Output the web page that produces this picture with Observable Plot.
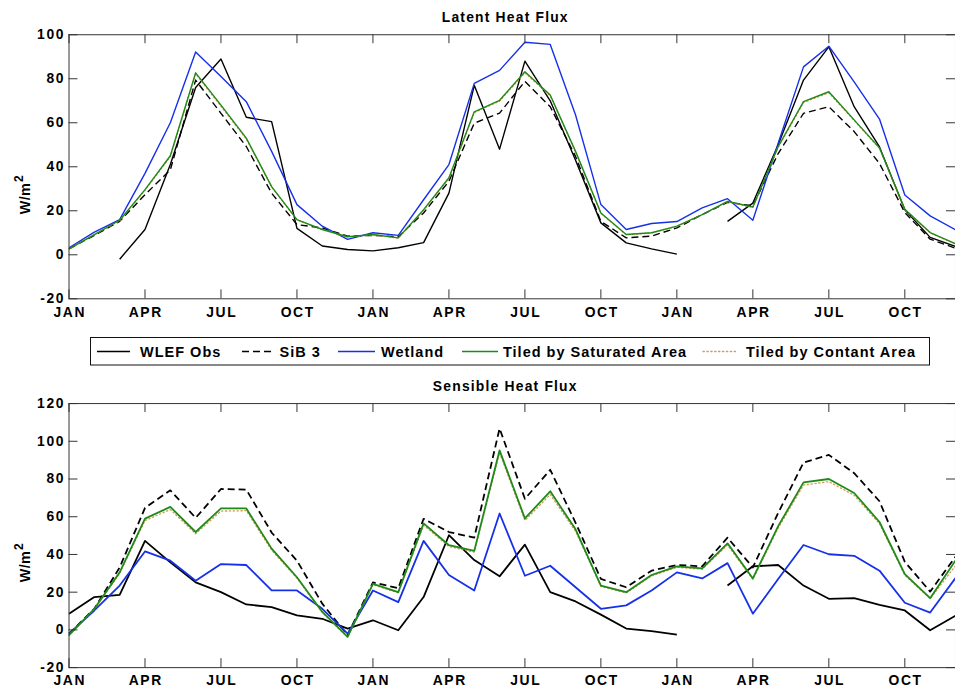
<!DOCTYPE html>
<html><head><meta charset="utf-8">
<script src="https://cdn.jsdelivr.net/npm/d3@7"></script>
<script src="https://cdn.jsdelivr.net/npm/@observablehq/plot@0.6"></script>
<style>
html,body{margin:0;padding:0;overflow:hidden;background:#fff;width:955px;height:692px}
#wrap{position:relative;width:955px;height:692px;overflow:hidden;background:#fff}
#wrap > svg{position:absolute;left:0;overflow:visible}
</style></head><body><div id="wrap"></div>
<script>
// ---------- data ----------
const months = d3.range(36); // month index 0 = JAN of year 1
const xTicks = [0,3,6,9,12,15,18,21,24,27,30,33];
const xLabels = ["JAN","APR","JUL","OCT","JAN","APR","JUL","OCT","JAN","APR","JUL","OCT"];
const latYTicks = [-20,0,20,40,60,80,100];
const senYTicks = [-20,0,20,40,60,80,100,120];
const seriesNames = ["WLEF Obs","SiB 3","Wetland","Tiled by Saturated Area","Tiled by Contant Area"];

// Latent heat flux (W/m2)
const latObs = [null,null,-2,11.5,41,76,89,62.5,60.5,12,4,2.4,1.8,3.2,5.5,28,77,48,88,70,43,14.5,5.4,2.7,0.3,null,15.2,23.5,50,79.4,94.5,67.3,49,20.5,7.9,3.8];
const latSiB = [2.7,8.8,15.2,27.3,38.6,79.4,64.3,49.2,28,13.7,12.2,8.5,8.8,8.2,19,33.4,59.8,64.4,78.8,67.3,44.7,15.2,7.7,8.5,12.2,18.3,23.8,22.3,46,64.3,67.3,56,41.5,19.2,7.1,3];
const latWet = [3.2,10.3,16,37,60,92.2,81,69.6,47,22.8,13,7,10,8.8,25,41,77.9,83.8,96.6,95.6,63.5,22.8,11.5,14.2,15.1,21.3,25.5,15.7,50.7,85.4,94.8,78.6,61.7,27.2,17.7,11.4];
const latSat = [2.7,9.2,15.7,29.6,45,82.7,68,53,31,16,11.5,8.2,9.2,7.7,20.5,35,65,70.2,83.2,72.6,47,19,9.2,10,13,18.3,24.3,21.7,49.2,69.6,74.1,61.3,48.6,20.7,10.1,5];
const latCon = [2.7,9.1,15.5,29.3,44.6,82.2,67.5,52.6,30.8,15.8,11.4,8.1,9.1,7.6,20.2,34.7,64.6,69.8,82.7,72.2,46.7,18.8,9.1,9.9,12.9,18.2,24.1,21.5,48.8,69.2,73.6,61,48.3,20.5,10,4.9];

// Sensible heat flux (W/m2)
const senObs = [8.6,17.4,18.6,47.2,35.8,25.2,20,13.5,12.1,7.7,5.9,0.7,5.1,-0.2,17.4,50.2,37,28.4,45.2,20,15.1,8.1,0.7,-0.7,-2.5,null,23.5,33.7,34.4,23.5,16.5,16.8,13.3,10.3,-0.2,7.5];
const senSiB = [-2,11.2,33.1,64.7,74,59.4,74.7,74.4,51.6,36.7,13.9,-2.8,25.2,22.1,58.9,51.9,48.9,106.8,69.5,84.9,56.8,27,22.6,31.4,34.4,33.7,48.9,33.1,62,88.7,92.8,83.1,68.2,36.1,20.3,38.8];
const senWet = [-2,10.3,23.5,41.6,36.7,26.1,34.9,34.4,20.9,20.9,11.2,-2,20.9,14.7,47.2,29.1,20.9,61.7,28.7,34,22.6,11.2,13,20.9,30.5,27.3,35.4,8.6,27,45,40.1,39.3,31.4,14.4,9.2,27.5];
const senSat = [-2.8,11.2,30.5,59,65.2,51.9,64.4,64.4,43.1,27.9,9.5,-3.7,24.4,20,56.5,44.9,41.9,95.2,59.1,73.5,53.3,23.5,20,29.1,33.7,32.6,45.9,27.3,55,78.2,80,72.6,57.2,29.6,16.8,36.8];
const senCon = [-3,11,30,58,63.8,51,63,63.2,42.3,27.4,9.2,-3.9,24,19.6,55.5,44.2,41.2,94,58,71.8,52.3,23,19.6,28.6,33.2,32.2,45,26.8,54,76.8,78.6,71.4,56.3,29,16.6,34];

// ---------- styling ----------
const FONT = '"Liberation Sans", Arial, Helvetica, sans-serif';
const styles = [
  {stroke:"#000", dash:null},
  {stroke:"#000", dash:"7,4"},
  {stroke:"#1530e8", dash:null},
  {stroke:"#1f8a1a", dash:null},
  {stroke:"#d29a52", dash:"1.3,2.6"}
];

const wrap = document.getElementById("wrap");

function panel({title, values, yDomain, yTicks, top, height, mt, mb, titleBase, ylabStart, lw}) {
  const W = 962, ML = 69;
  const innerH = height - mt - mb, innerW = W - ML;
  const rows = arr => arr.map((v,i) => ({m: months[i], v}));
  const order = [0,1,2,4,3];
  const lineMarks = order.map(k => Plot.line(rows(values[k]), {
    x:"m", y:"v", stroke: styles[k].stroke, strokeWidth: k===4 ? 1.3 : lw,
    strokeDasharray: styles[k].dash, strokeLinejoin:"round", strokeLinecap: k===4 ? "round" : "butt"
  }));
  const svg = Plot.plot({
    width: W, height,
    marginLeft: ML, marginRight: 0, marginTop: mt, marginBottom: mb,
    style: {fontFamily: FONT, fontWeight: "bold", fontSize: "14px", background: "transparent", overflow:"visible"},
    x: {domain:[0,35], axis:null, label:null},
    y: {domain:yDomain, axis:null, label:null},
    marks: [
      ...lineMarks,
      Plot.frame({stroke:"#333", strokeWidth:1}),
      Plot.tickX(xTicks, {x:d=>d, insetBottom: innerH-9, stroke:"#333"}),
      Plot.tickX(xTicks, {x:d=>d, insetTop: innerH-9, stroke:"#333"}),
      Plot.tickY(yTicks, {y:d=>d, insetRight: innerW-9, stroke:"#333"}),
      Plot.tickY(yTicks, {y:d=>d, insetLeft: innerW-9, stroke:"#333"}),
      Plot.axisX(xTicks, {tickSize:0, tickPadding:8, label:null, tickFormat: d => xLabels[xTicks.indexOf(d)],
        fontSize:14, fontWeight:"bold", fill:"#000", dx:0.8}),
      Plot.axisY(yTicks, {tickSize:0, tickPadding:4, label:null, tickFormat: d => String(d),
        fontSize:14, fontWeight:"bold", fill:"#000"})
    ]
  });
  svg.style.top = top + "px";
  svg.style.letterSpacing = "1.6px";
  const s = d3.select(svg);
  s.append("text").attr("x", 509).attr("y", titleBase).attr("text-anchor","middle")
    .attr("font-family", FONT).attr("font-weight","bold").attr("font-size",14)
    .style("letter-spacing","1.2px").attr("fill","#000").text(title);
  const yl = s.append("text").attr("transform", `translate(30,${ylabStart}) rotate(-90)`)
    .attr("font-family", FONT).attr("font-weight","bold").attr("font-size",14.5)
    .style("letter-spacing","0.3px").attr("fill","#000");
  yl.append("tspan").text("W/m");
  yl.append("tspan").attr("dy","-0.55em").attr("dx","1").attr("font-size",12).text("2");
  wrap.appendChild(svg);
}

panel({title:"Latent Heat Flux", values:[latObs,latSiB,latWet,latSat,latCon],
  yDomain:[-20,100], yTicks:latYTicks, top:0, height:320, mt:34.5, mb:19.5,
  titleBase:21.7, ylabStart:196, lw:1.4});

// legend
(function legend(){
  const lg = d3.create("svg").attr("width",955).attr("height",52).style("top","320px");
  lg.append("rect").attr("x",90.5).attr("y",17.5).attr("width",839).attr("height",27.5)
    .attr("fill","#fff").attr("stroke","#111").attr("stroke-width",1);
  const items = [
    {l:[97,130], t:140}, {l:[242,275], t:279.5}, {l:[338,375], t:381},
    {l:[462,498], t:503}, {l:[703,738], t:746}
  ];
  items.forEach((it,k) => {
    lg.append("line").attr("x1",it.l[0]).attr("x2",it.l[1]).attr("y1",31.5).attr("y2",31.5)
      .attr("stroke",styles[k].stroke).attr("stroke-width", k===4?1.3:1.6)
      .attr("stroke-dasharray", styles[k].dash).attr("stroke-linecap", k===4?"round":"butt");
    lg.append("text").attr("x",it.t).attr("y",36.8).attr("font-family",FONT)
      .attr("font-weight","bold").attr("font-size",14.5).style("letter-spacing","1px")
      .attr("fill","#000").text(seriesNames[k]);
  });
  wrap.appendChild(lg.node());
})();

panel({title:"Sensible Heat Flux", values:[senObs,senSiB,senWet,senSat,senCon],
  yDomain:[-20,120], yTicks:senYTicks, top:372, height:320, mt:31.3, mb:22.7,
  titleBase:18.7, ylabStart:192, lw:1.8});
</script></body></html>
